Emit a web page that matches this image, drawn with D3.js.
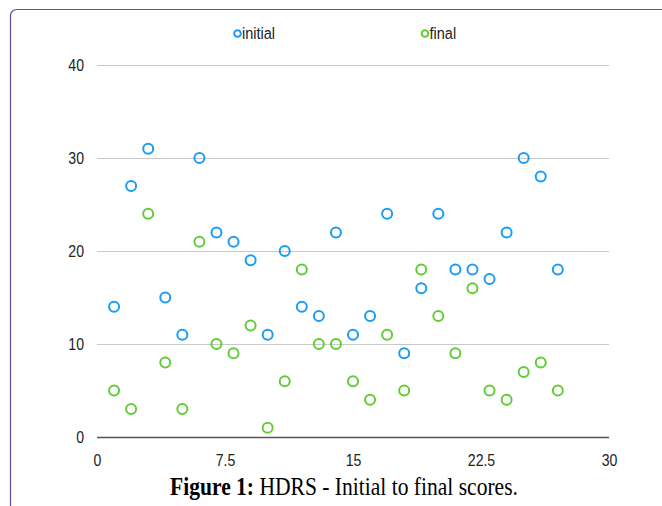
<!DOCTYPE html>
<html><head><meta charset="utf-8">
<script src="https://cdn.jsdelivr.net/npm/d3@7"></script>
<style>body{margin:0;background:#fff}svg{display:block}</style>
</head><body>
<svg id="c" width="662" height="506"></svg>
<script>
const xValues = [1,2,3,4,5,6,7,8,9,10,11,12,13,14,15,16,17,18,19,20,21,22,23,24,25,26,27];
const initialScores = [14,27,31,15,11,30,22,21,19,11,20,14,13,22,11,13,24,9,16,24,18,18,17,22,30,28,18];
const finalScores = [5,3,24,8,3,21,10,9,12,1,6,18,10,10,6,4,11,5,18,13,9,16,5,4,7,8,5];
const xTicks = [0,7.5,15,22.5,30];
const yTicks = [0,10,20,30,40];
const seriesNames = ["initial","final"];
const colors = ["#1a9cf5","#62cc37"];
const caption = ["Figure 1:", " HDRS - Initial to final scores."];

const SX = 0.88;
const sans = "Liberation Sans, Arial, sans-serif";
function squeeze(sel){
  sel.each(function(){
    const e = d3.select(this);
    const x0 = +e.attr("x")||0, y0 = +e.attr("y")||0;
    e.attr("x",0).attr("y",0).attr("transform",`translate(${x0},${y0}) scale(${SX},1)`);
  });
}

const svg = d3.select("#c");
// frame
svg.append("rect").attr("x",10.5).attr("y",9.5).attr("width",700).attr("height",600)
  .attr("rx",6).attr("fill","none").attr("stroke","#5a52a0").attr("stroke-width",1.2);

const x = d3.scaleLinear().domain([0,30]).range([97,609]);
const y = d3.scaleLinear().domain([0,40]).range([437,65]);

// grid
const gy = svg.append("g").attr("transform","translate(97,0)")
  .call(d3.axisLeft(y).tickValues(yTicks).tickSize(-512).tickFormat(d3.format("d")).tickPadding(13));
gy.select(".domain").remove();
gy.selectAll(".tick line").attr("stroke",d=>d===0?"#555":"#c8c8c8").attr("stroke-width",d=>d===0?1.6:1.2);
gy.selectAll(".tick text").attr("font-family",sans).attr("font-size",16).attr("fill","#222").call(squeeze);

const gx = svg.append("g").attr("transform","translate(0,437)")
  .call(d3.axisBottom(x).tickValues(xTicks).tickSize(0).tickPadding(18).tickFormat(d=>String(d)));
gx.select(".domain").remove();
gx.selectAll(".tick text").attr("font-family",sans).attr("font-size",16).attr("fill","#222").call(squeeze);

const series = [initialScores, finalScores];
series.forEach((vals,i)=>{
  svg.append("g").selectAll("circle").data(vals).join("circle")
    .attr("cx",(d,j)=>x(xValues[j])).attr("cy",d=>y(d)).attr("r",5)
    .attr("fill","none").attr("stroke",colors[i]).attr("stroke-width",2);
});

// legend
const legX = [237.5, 425];
seriesNames.forEach((n,i)=>{
  const g = svg.append("g").attr("transform",`translate(${legX[i]},33.5)`);
  g.append("circle").attr("r",3.3).attr("fill","none").attr("stroke",colors[i]).attr("stroke-width",2);
  g.append("text").attr("x",4.5).attr("y",5.8).text(n)
    .attr("font-family",sans).attr("font-size",16.5).attr("fill","#222").call(squeeze);
});

// caption
const t = svg.append("text").attr("x",344).attr("y",495).attr("text-anchor","middle")
  .attr("font-family","Liberation Serif, Times New Roman, serif").attr("font-size",24.5).attr("fill","#000");
t.append("tspan").attr("font-weight","bold").text(caption[0]);
t.append("tspan").text(caption[1]);
squeeze(t);
</script>
</body></html>
